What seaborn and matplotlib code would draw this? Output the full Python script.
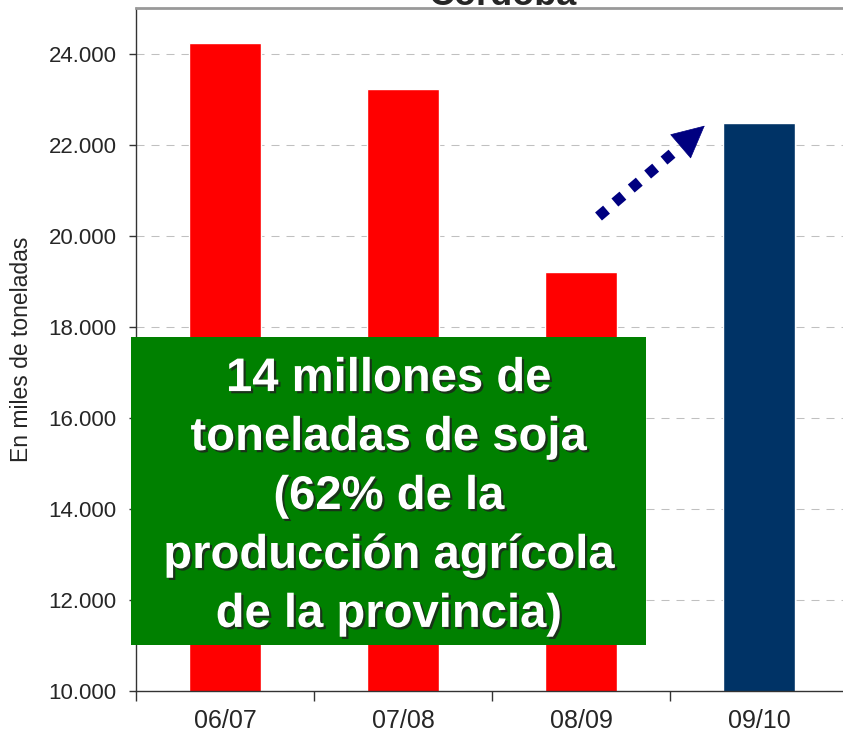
import matplotlib
matplotlib.use('Agg')
import matplotlib.pyplot as plt
import matplotlib.patheffects as pe
from matplotlib.patches import Rectangle
from matplotlib.ticker import FuncFormatter, FixedLocator
import seaborn as sns
import pandas as pd

# data (miles de toneladas)
campaigns = ['06/07', '07/08', '08/09', '09/10']
production = [24240, 23230, 19210, 22480]
bar_colors = ['#FF0000', '#FF0000', '#FF0000', '#003366']
y_ticks = [10000, 12000, 14000, 16000, 18000, 20000, 22000, 24000]

title = 'Córdoba'
y_label = 'En miles de toneladas'
box_text = '14 millones de\ntoneladas de soja\n(62% de la\nproducción agrícola\nde la provincia)'

sns.set_theme(style='white')
plt.rcParams['font.family'] = ['Liberation Sans', 'DejaVu Sans']

df = pd.DataFrame({'campaign': campaigns, 'value': production})

fig = plt.figure(figsize=(8.43, 7.4), dpi=100)
ax = fig.add_axes([136 / 843, 1 - 691 / 740, 712 / 843, 683 / 740])

sns.barplot(data=df, x='campaign', y='value', hue='campaign',
            palette=dict(zip(campaigns, bar_colors)), legend=False,
            width=0.41, saturation=1, ax=ax, zorder=2)

ax.set_ylim(10000, 25000)
ax.set_xlim(-0.5, len(campaigns) - 0.5)
ax.set_yticks(y_ticks)
ax.yaxis.set_major_formatter(FuncFormatter(lambda v, p: f'{int(v):,}'.replace(',', '.')))
ax.tick_params(axis='y', direction='out', length=5, width=1, color='#333333',
               pad=9, labelsize=16, left=True)

# x labels centred, tick marks between categories
ax.xaxis.set_minor_locator(FixedLocator([i - 0.5 for i in range(len(campaigns) + 1)]))
ax.tick_params(axis='x', which='major', length=0, pad=13, labelsize=18)
ax.tick_params(axis='x', which='minor', direction='out', length=7, width=1,
               color='#333333', bottom=True)
ax.set_xlabel('')
ax.set_ylabel('')

ax.yaxis.grid(True, color='#C0C0C0', linewidth=0.75, linestyle=(0, (7.7, 6.7)))
ax.set_axisbelow(True)

for side in ['left', 'bottom']:
    ax.spines[side].set_color('#333333')
    ax.spines[side].set_linewidth(1)
ax.spines['top'].set_color('#999999')
ax.spines['top'].set_linewidth(2)
ax.spines['right'].set_visible(False)

fig.text(22 / 843, 1 - 349 / 740, y_label, rotation=90, ha='center', va='center', fontsize=16.5)

# title cut at the top edge, as in the original
fig.text(503 / 843, 1 - 5 / 740, title, ha='center', va='baseline',
         fontsize=26, fontweight='bold')

# dotted arrow towards 09/10
def to_data(px, py):
    return ((px - 226) / 178, 10000 + (691 - py) / 683 * 15000)

ax.annotate('', xy=to_data(675, 152), xytext=to_data(599.5, 216.5),
            arrowprops=dict(arrowstyle='-', color='#000080', lw=7.6,
                            linestyle=(0, (1, 1.04)), capstyle='butt',
                            shrinkA=0, shrinkB=0),
            zorder=4)
ax.annotate('', xy=to_data(705.7, 125.7), xytext=to_data(682, 146),
            arrowprops=dict(arrowstyle='-|>,head_length=1.11,head_width=0.55',
                            mutation_scale=20, color='#000080', lw=0.5,
                            shrinkA=0, shrinkB=0),
            zorder=4)

# green callout box
fig.add_artist(Rectangle((131 / 843, 1 - 645 / 740), 515 / 843, 308 / 740,
                         transform=fig.transFigure, facecolor='#008000',
                         edgecolor='none', zorder=5))
fig.text(389 / 843, 1 - 497 / 740, box_text, ha='center', va='center',
         multialignment='center', fontsize=34, fontweight='bold', color='white',
         linespacing=1.44, zorder=6,
         path_effects=[pe.withSimplePatchShadow(offset=(1.6, -1.6),
                                                shadow_rgbFace='#202020', alpha=0.8)])

fig.savefig('out.png', dpi=100)
